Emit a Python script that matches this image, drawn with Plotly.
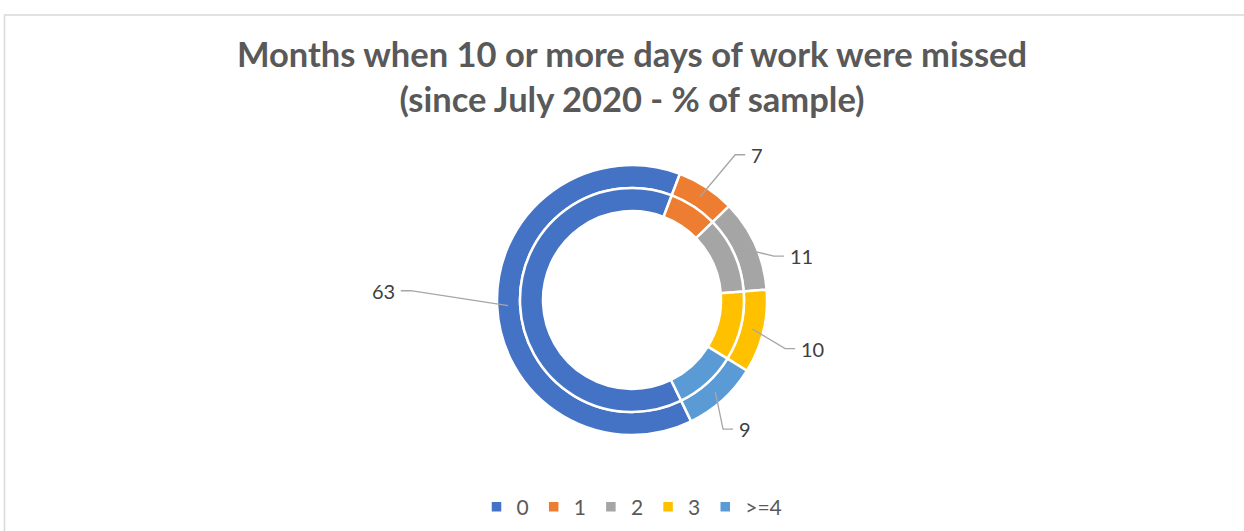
import math
import plotly.graph_objects as go

# data
labels = ['0', '1', '2', '3', '>=4']
values = [63, 7, 11, 10, 9]
colors = ['#4472C4', '#ED7D31', '#A5A5A5', '#FFC000', '#5B9BD5']

W, H = 1244, 531
cx, cy = 632, 300              # donut centre in px
r_out, r_mid, r_in = 135, 112, 89
rotation = 154                 # start angle of first slice (clockwise from 12 o'clock)
# where each leader line bends: (share of r_out, extra degrees)
lead_r = [1.64, 1.32, 1.10, 1.19, 1.17]
lead_da = [5, 2, 7, 4, 7]


def px(x):
    return x / W


def py(y):
    return 1 - y / H


def dom(r):
    return dict(x=[px(cx - r), px(cx + r)], y=[py(cy + r), py(cy - r)])


fig = go.Figure()
fig.add_trace(go.Pie(labels=labels, values=values, sort=False, direction='clockwise',
                     rotation=rotation, hole=r_mid / r_out, domain=dom(r_out),
                     marker=dict(colors=colors, line=dict(color='white', width=2.5)),
                     textinfo='none', hoverinfo='label+value'))
fig.add_trace(go.Pie(labels=labels, values=values, sort=False, direction='clockwise',
                     rotation=rotation, hole=r_in / r_mid, domain=dom(r_mid),
                     marker=dict(colors=colors, line=dict(color='white', width=2.5)),
                     textinfo='none', hoverinfo='label+value', showlegend=False))

# leader lines + value labels for the outer ring
total = sum(values)
cum = 0
for v, k, da in zip(values, lead_r, lead_da):
    mid = rotation + (cum + v / 2) / total * 360
    cum += v
    a = math.radians(mid)
    b = math.radians(mid + da)
    x0, y0 = cx + 124 * math.sin(a), cy - 124 * math.cos(a)
    x1, y1 = cx + r_out * k * math.sin(b), cy - r_out * k * math.cos(b)
    side = 1 if math.sin(b) >= 0 else -1
    x2 = x1 + 10 * side
    fig.add_shape(type='path', xref='paper', yref='paper',
                  path=f'M{px(x0)},{py(y0)} L{px(x1)},{py(y1)} L{px(x2)},{py(y1)}',
                  line=dict(color='#A6A6A6', width=1.3))
    fig.add_annotation(x=px(x2 + 4 * side), y=py(y1), xref='paper', yref='paper',
                       text=str(v), showarrow=False,
                       xanchor='left' if side > 0 else 'right', yanchor='middle',
                       font=dict(size=20, color='#404040'))

# chart area border
fig.add_shape(type='rect', xref='paper', yref='paper', x0=px(4.5), y0=-0.05, x1=1.05, y1=py(15),
              line=dict(color='#D9D9D9', width=1.5), fillcolor='rgba(0,0,0,0)', layer='below')

fig.update_layout(
    width=W, height=H,
    margin=dict(l=0, r=0, t=0, b=0),
    paper_bgcolor='white', plot_bgcolor='white',
    font=dict(family='Lato, Carlito, Liberation Sans, sans-serif', color='#595959'),
    title=dict(text='Months when 10 or more days of work were missed<br>(since July 2020 - % of sample)',
               x=px(cx), xanchor='center', y=py(67), yanchor='middle',
               font=dict(size=34.5, color='#595959', weight='bold')),
    legend=dict(orientation='h', x=px(cx), xanchor='center', y=py(507), yanchor='middle',
                font=dict(size=21, color='#595959'), traceorder='normal'),
)

# drop the default body margin so the figure sits at the page corner
fig.write_html('out.html', config={'displayModeBar': False},
               post_script="document.body.style.margin='0';")
